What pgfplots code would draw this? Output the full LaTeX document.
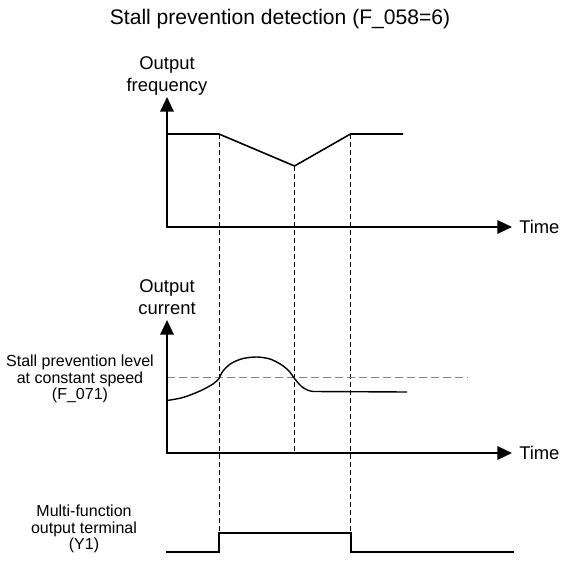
\documentclass[border=0pt]{standalone}
\usepackage{fontspec}
\setmainfont{Liberation Sans}
\usepackage{pgfplots}
\pgfplotsset{compat=1.18}
\usetikzlibrary{arrows.meta}

% 1 px of the reference = 0.75pt
\tikzset{
  axisline/.style={line width=1.7pt, line join=miter, {Triangle[length=11pt,width=10pt]}-{Triangle[length=11pt,width=10pt]}},
  guide/.style={line width=0.7pt, dash pattern=on 4pt off 2pt},
  lbl/.style={font=\fontsize{12pt}{12.5pt}\selectfont, align=center, inner sep=0pt},
  axlbl/.style={font=\fontsize{13.8pt}{16.5pt}\selectfont, align=center, inner sep=0pt},
}

\begin{document}
\begin{tikzpicture}
\begin{axis}[
    scale only axis,
    width=420.75pt, height=423pt,
    xmin=0, xmax=561, ymin=0, ymax=564,
    y dir=reverse,
    hide axis, clip=false,
]
% ---- dashed guides ----
\addplot[guide] coordinates {(219,134) (219,532.5)};
\addplot[guide] coordinates {(294.5,166) (294.5,453)};
\addplot[guide] coordinates {(350.5,134) (350.5,532.5)};
\addplot[line width=1.3pt, black!50, dash pattern=on 6pt off 3pt] coordinates {(167,377.5) (468,377.5)};

% ---- axes ----
\addplot[axisline] coordinates {(167,97) (167,227) (512,227)};
\addplot[axisline] coordinates {(167,320) (167,453) (512,453)};

% ---- output frequency ----
\addplot[line width=1.2pt, line join=miter] coordinates {
  (167,134) (219,134) (294.5,166) (350.5,134) (403,134)
};

% ---- output current ----
\addplot[line width=1.05pt, smooth] coordinates {
  (167,400.5) (183,397.5) (200,391) (213,384) (219,378.5)
};
\addplot[line width=1.05pt, smooth] coordinates {
  (219,378.5) (223,371) (231,363.5) (243,358.5) (257,357) (270,359)
  (281,364.5) (289,371) (294.5,378.5) (301.5,386.5) (308,390.3) (313,391.5)
};
\addplot[line width=1.05pt] coordinates {(313,391.5) (407,392)};

% ---- multi-function output ----
\addplot[line width=1.5pt, line join=miter] coordinates {
  (166,552) (219,552) (219,532.5) (350.5,532.5) (350.5,552) (514,552)
};

% ---- texts ----
\node[font=\fontsize{15.8pt}{18pt}\selectfont] at (axis cs:280,19) {Stall prevention detection (F\_058=6)};
\node[axlbl, anchor=south] at (axis cs:167,96) {Output\\frequency};
\node[axlbl, anchor=south] at (axis cs:167,315) {Output\\current};
\node[axlbl, anchor=west] at (axis cs:519,227) {Time};
\node[axlbl, anchor=west] at (axis cs:519,453) {Time};
\node[lbl] at (axis cs:80,379) {Stall prevention level\\at constant speed\\(F\_071)};
\node[lbl] at (axis cs:84,529) {Multi-function\\output terminal\\(Y1)};
\end{axis}
\pgfresetboundingbox
\path (0,0) rectangle (420.75pt,423pt);
\end{tikzpicture}
\end{document}
